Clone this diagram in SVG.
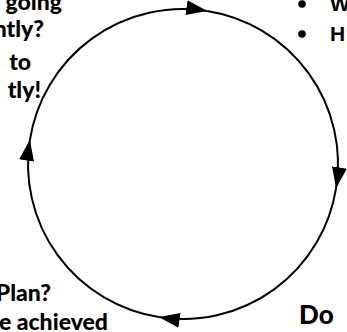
<svg xmlns="http://www.w3.org/2000/svg" width="347" height="332" viewBox="0 0 347 332">
  <style>
    .lbl { font-family: Lato, "Liberation Sans", sans-serif; font-weight: 900; font-size: 23px; fill: #000; }
    .big { font-family: Lato, "Liberation Sans", sans-serif; font-weight: 900; font-size: 26px; fill: #000; }
    .arial { font-family: "Liberation Sans", Arial, sans-serif; font-weight: bold; font-size: 21px; fill: #000; }
    .arc { fill: none; stroke: #000; stroke-width: 2; marker-end: url(#head); }
  </style>
  <defs>
    <marker id="head" markerUnits="userSpaceOnUse" viewBox="0 0 21 15" refX="21" refY="7.5" markerWidth="21" markerHeight="15" orient="auto">
      <path d="M0,0 L21,7.5 L0,15 z" fill="#000"/>
    </marker>
  </defs>
  <rect width="347" height="332" fill="#fff"/>
  <g id="connectors">
    <path class="arc" d="M29.9,139.8 A155,155 0 0 1 207.2,10.9"/>
    <path class="arc" d="M207.2,10.9 A155,155 0 0 1 336.1,188.2"/>
    <path class="arc" d="M336.1,188.2 A155,155 0 0 1 158.8,317.1"/>
    <path class="arc" d="M158.8,317.1 A155,155 0 0 1 29.9,139.8"/>
  </g>
  <g id="act">
    <text class="lbl" x="62" y="10" text-anchor="end">going</text>
    <text class="lbl" x="44" y="37" text-anchor="end">ntly?</text>
    <text class="lbl" x="31" y="70" text-anchor="end">to</text>
    <text class="lbl" x="41" y="98" text-anchor="end">tly!</text>
  </g>
  <g id="plan">
    <circle cx="302" cy="4" r="3.8" fill="#000"/>
    <text class="arial" x="330" y="11">W</text>
    <circle cx="302" cy="34" r="3.8" fill="#000"/>
    <text class="arial" x="330" y="41">H</text>
  </g>
  <g id="do">
    <text class="big" x="299" y="324">Do</text>
  </g>
  <g id="check">
    <text class="lbl" x="51" y="301" text-anchor="end">Plan?</text>
    <text class="lbl" x="108" y="330" text-anchor="end">e achieved</text>
  </g>
</svg>
